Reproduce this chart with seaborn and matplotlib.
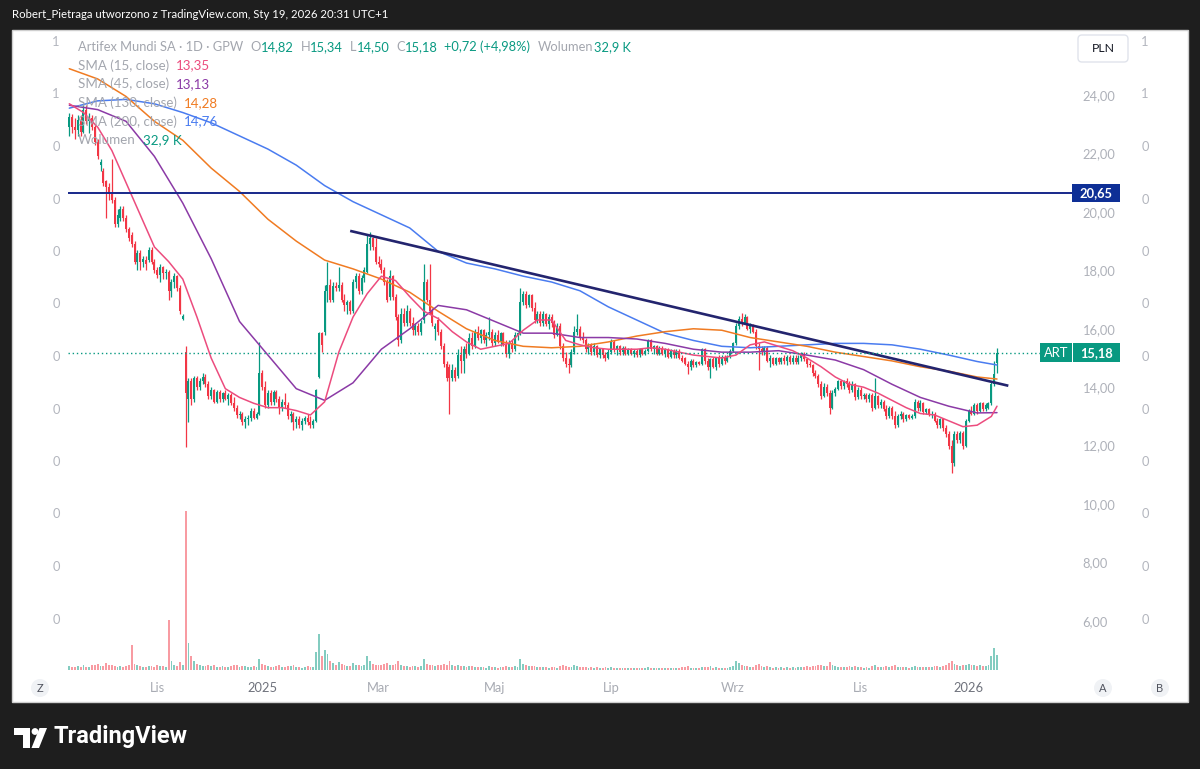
import matplotlib
matplotlib.use('Agg')
import matplotlib.pyplot as plt
from matplotlib.patches import Rectangle, FancyBboxPatch, Circle, Polygon
from matplotlib.transforms import Affine2D
import seaborn as sns
import pandas as pd
import numpy as np

# sessions on GPW, daily bars
first_day, last_day = '2024-09-19', '2026-01-19'
gpw_holidays = ['2024-11-01', '2024-11-11', '2024-12-24', '2024-12-25', '2024-12-26', '2024-12-31',
                '2025-01-01', '2025-01-06', '2025-04-18', '2025-04-21', '2025-05-01', '2025-06-19',
                '2025-08-15', '2025-11-11', '2025-12-24', '2025-12-25', '2025-12-26', '2025-12-31',
                '2026-01-01', '2026-01-06']

opens = [
    22.9, 23.25, 22.9, 22.8, 23.15, 22.75, 23.5, 23.1,
    23.2, 22.9, 22.4, 21.6, 21.4, 21.05, 20.85, 20.6, 20.4, 19.6, 19.8, 20.1, 19.8, 19.4, 19.2, 18.9, 18.3, 18.6, 18.3, 18.35, 18.35, 18.7, 18.3,
    18.0, 17.85, 18.1, 17.9, 17.95, 17.3, 17.6, 17.8, 17.4, 16.35, 15.2, 13.6, 14.2, 13.6, 14.3, 14.0, 14.2, 14.35, 14.1,
    13.7, 13.9, 13.5, 13.85, 13.6, 13.8, 13.6, 13.75, 13.45, 13.3, 13.05, 13.1, 12.8, 12.9, 12.95, 13.2, 12.95, 13.1,
    14.5, 14.0, 13.4, 13.8, 13.5, 13.85, 13.6, 13.3, 13.5, 13.4, 13.0, 13.1, 12.8, 12.9, 12.7, 12.85, 12.95, 12.8, 12.7, 12.85, 14.35,
    15.85, 15.9, 17.3, 17.5, 17.0, 17.45, 17.4, 17.5, 17.0, 16.8, 16.9, 16.6, 17.6, 17.8, 17.3, 17.75, 17.95, 18.9, 19.1, 18.8,
    18.3, 18.2, 18.0, 17.6, 17.1, 17.8, 17.1, 16.4, 15.6, 16.5, 16.2, 16.6, 16.2, 15.95, 16.1, 15.9, 16.3, 17.6, 17.0, 16.6, 16.0,
    16.3, 15.9, 15.4, 14.8, 14.7, 14.3, 14.6, 14.4, 15.1, 14.9, 15.3, 15.15, 15.7, 15.4, 15.9, 15.7, 15.95, 15.6, 15.8, 15.9,
    15.5, 15.8, 15.55, 15.85, 15.45, 15.15, 15.5, 15.3, 15.8, 15.85, 16.9, 17.2, 16.8, 17.15, 16.7, 16.3, 16.5, 16.2, 16.5, 16.15, 16.4,
    16.2, 15.8, 16.1, 15.4, 15.0, 14.8, 14.75, 15.2, 15.9, 16.0, 15.7, 15.6, 15.3, 15.45, 15.2, 15.4, 15.1, 15.3, 15.1, 15.0,
    15.2, 15.55, 15.3, 15.4, 15.2, 15.35, 15.15, 15.3, 15.15, 15.25, 15.1, 15.3, 15.15, 15.25, 15.6, 15.3, 15.4, 15.15, 15.35, 15.15, 15.3, 15.05, 15.25,
    15.1, 15.25, 15.0, 15.0, 14.8, 14.7, 14.9, 14.75, 14.85, 14.8, 15.3, 14.9, 14.7, 14.95, 14.7, 15.0, 14.8, 15.05, 14.9, 15.05,
    15.25, 15.5, 16.1, 16.35, 16.2, 16.4, 16.0, 16.1, 15.9, 15.4, 15.3, 15.2, 15.35, 14.9, 15.0, 14.8, 15.0, 14.85, 15.0, 14.9, 15.05, 14.85,
    15.0, 14.85, 15.0, 15.15, 14.95, 14.8, 14.75, 14.5, 14.4, 14.1, 13.7, 14.0, 13.8, 13.3, 13.8, 13.95, 14.2, 14.05, 14.2, 14.1, 13.9, 14.1, 13.65,
    13.9, 13.7, 13.75, 13.6, 13.75, 13.3, 13.7, 13.4, 13.5, 13.25, 13.0, 13.3, 13.0, 12.7, 13.0, 13.1, 12.9, 13.05, 12.95,
    13.0, 13.5, 13.3, 13.45, 13.15, 13.25, 13.05, 13.1, 12.85, 12.7, 12.9, 12.6, 12.4, 12.0, 11.4, 12.4, 12.2, 12.45, 12.0,
    12.85, 13.2, 13.1, 13.4, 13.2, 13.45, 13.25, 13.3, 13.45, 14.1, 14.82,
]
highs = [
    23.4, 23.35, 23.2, 23.3, 23.3, 23.7, 23.65, 23.4,
    23.3, 23.0, 22.5, 21.8, 21.5, 21.1, 21.0, 21.8, 20.5, 20.1, 20.2, 20.2, 19.9, 19.5, 19.3, 19.0, 18.7, 18.7, 18.5, 18.5, 18.8, 18.8, 18.4,
    18.1, 18.2, 18.15, 18.05, 18.0, 17.7, 17.9, 17.85, 17.5, 16.5, 15.4, 14.3, 14.3, 14.4, 14.4, 14.3, 14.5, 14.45, 14.2,
    14.0, 13.95, 13.9, 13.9, 13.85, 13.9, 13.8, 13.8, 13.65, 13.4, 13.2, 13.15, 13.0, 13.05, 13.3, 13.3, 13.15, 15.55,
    14.6, 14.2, 13.9, 13.9, 13.9, 13.9, 13.7, 13.6, 13.8, 13.5, 13.2, 13.15, 13.0, 13.0, 12.95, 13.0, 13.1, 13.0, 12.9, 13.95, 15.9,
    15.9, 17.5, 18.3, 17.7, 17.6, 17.6, 18.1, 17.6, 17.2, 17.0, 17.0, 17.7, 17.9, 17.9, 17.85, 18.1, 19.2, 19.3, 19.15, 19.1,
    18.5, 18.4, 18.1, 17.7, 18.0, 17.85, 17.2, 16.5, 16.7, 16.7, 16.8, 16.7, 16.4, 16.2, 16.2, 16.3, 18.2, 17.7, 18.2, 16.7, 16.2,
    16.4, 16.0, 15.5, 14.9, 14.8, 14.8, 14.7, 15.3, 15.4, 15.4, 15.5, 15.85, 15.9, 16.0, 16.1, 16.0, 16.0, 15.9, 16.4, 16.0,
    15.9, 15.95, 15.9, 15.9, 15.6, 15.6, 15.6, 15.9, 15.9, 17.4, 17.3, 17.3, 17.2, 17.2, 16.9, 16.6, 16.6, 16.6, 16.55, 16.5, 16.5,
    16.3, 16.2, 16.2, 15.5, 15.2, 15.0, 15.3, 16.1, 16.5, 16.1, 15.9, 15.7, 15.5, 15.5, 15.5, 15.45, 15.35, 15.35, 15.2, 15.3,
    15.65, 15.6, 15.45, 15.45, 15.4, 15.4, 15.35, 15.35, 15.3, 15.3, 15.35, 15.35, 15.3, 15.65, 15.65, 15.45, 15.45, 15.4, 15.4, 15.35, 15.35, 15.3, 15.3,
    15.3, 15.3, 15.1, 15.05, 14.9, 14.95, 14.95, 14.9, 14.9, 15.35, 15.35, 15.0, 15.0, 15.05, 15.05, 15.1, 15.1, 15.1, 15.1, 15.3,
    15.55, 16.2, 16.45, 16.55, 16.5, 16.45, 16.2, 16.15, 16.0, 15.5, 15.4, 15.4, 15.4, 15.1, 15.05, 15.05, 15.05, 15.05, 15.1, 15.1, 15.1, 15.1,
    15.1, 15.1, 15.2, 15.2, 15.0, 14.9, 14.8, 14.6, 14.45, 14.2, 14.15, 14.1, 13.9, 13.9, 14.0, 14.25, 14.25, 14.25, 14.3, 14.2, 14.2, 14.15, 14.0,
    14.0, 13.8, 13.8, 13.8, 13.8, 14.3, 13.75, 13.6, 13.55, 13.4, 13.35, 13.35, 13.2, 13.1, 13.2, 13.15, 13.1, 13.1, 13.1,
    13.6, 13.55, 13.55, 13.5, 13.3, 13.3, 13.2, 13.15, 12.95, 12.95, 12.95, 12.7, 12.5, 12.2, 12.5, 12.5, 12.5, 12.5, 12.9,
    13.25, 13.35, 13.45, 13.45, 13.5, 13.5, 13.45, 13.5, 14.2, 14.9, 15.34,
]
lows = [
    22.6, 22.7, 22.5, 22.6, 22.6, 22.7, 23.0, 22.7,
    22.8, 22.3, 21.8, 21.4, 20.9, 19.8, 20.4, 20.3, 19.5, 19.5, 19.7, 19.7, 19.3, 19.0, 18.8, 18.2, 18.0, 18.0, 18.1, 18.0, 18.3, 18.2, 17.9,
    17.75, 17.6, 17.7, 17.7, 17.0, 17.1, 17.4, 17.3, 16.5, 16.3, 11.95, 12.8, 13.4, 13.5, 13.9, 13.9, 14.1, 14.0, 13.6,
    13.6, 13.45, 13.45, 13.5, 13.5, 13.55, 13.4, 13.4, 13.2, 12.95, 12.9, 12.7, 12.6, 12.7, 12.85, 12.9, 12.9, 13.05,
    13.9, 13.3, 13.3, 13.4, 13.4, 13.5, 13.1, 13.2, 13.3, 12.9, 12.8, 12.55, 12.6, 12.6, 12.55, 12.75, 12.7, 12.6, 12.6, 12.8, 14.3,
    15.2, 15.8, 16.9, 16.9, 16.9, 17.3, 17.3, 16.9, 16.6, 16.5, 16.5, 16.55, 17.4, 17.2, 17.2, 17.6, 17.9, 18.7, 18.7, 18.2,
    18.1, 17.9, 17.5, 16.9, 17.0, 17.0, 16.3, 15.4, 15.5, 16.1, 16.1, 16.1, 15.8, 15.8, 15.8, 15.8, 16.2, 16.9, 16.5, 16.1, 15.6,
    15.8, 15.3, 14.7, 14.2, 13.1, 14.2, 14.2, 14.3, 14.5, 14.5, 15.0, 15.1, 15.3, 15.35, 15.6, 15.5, 15.5, 15.4, 15.6, 15.4,
    15.4, 15.5, 15.4, 15.4, 15.05, 15.0, 15.2, 15.25, 15.6, 15.8, 16.8, 16.7, 16.75, 16.6, 16.2, 16.2, 16.1, 16.1, 16.1, 16.0, 16.05,
    15.7, 15.75, 15.3, 14.9, 14.7, 14.5, 14.7, 15.15, 15.8, 15.6, 15.5, 15.2, 15.15, 15.1, 15.1, 15.05, 15.0, 15.0, 14.9, 14.95,
    15.15, 15.2, 15.1, 15.1, 15.1, 15.1, 15.1, 15.1, 15.05, 15.05, 15.05, 15.1, 15.1, 15.2, 15.25, 15.15, 15.1, 15.1, 15.1, 15.05, 15.0, 15.0, 15.0,
    15.0, 14.95, 14.85, 14.75, 14.45, 14.6, 14.7, 14.7, 14.75, 14.75, 14.8, 14.6, 14.3, 14.65, 14.6, 14.7, 14.75, 14.8, 14.85, 15.0,
    15.2, 15.45, 16.0, 16.1, 16.15, 15.95, 15.85, 15.85, 15.3, 14.6, 15.1, 15.1, 14.85, 14.7, 14.75, 14.75, 14.8, 14.8, 14.8, 14.75, 14.8, 14.8,
    14.8, 14.8, 14.9, 14.9, 14.7, 14.7, 14.4, 14.3, 14.0, 13.6, 13.65, 13.7, 13.1, 13.25, 13.7, 13.9, 13.95, 13.95, 14.0, 13.8, 13.85, 13.55, 13.6,
    13.6, 13.6, 13.5, 13.5, 13.2, 13.25, 13.3, 13.3, 13.2, 12.9, 12.95, 12.9, 12.6, 12.65, 12.9, 12.8, 12.85, 12.9, 12.9,
    12.95, 13.2, 13.2, 13.1, 13.1, 13.0, 12.95, 12.8, 12.6, 12.6, 12.5, 12.3, 11.9, 11.05, 11.3, 12.1, 12.1, 11.9, 11.95,
    12.8, 13.05, 13.05, 13.1, 13.15, 13.2, 13.2, 13.25, 13.4, 14.05, 14.5,
]
closes = [
    23.25, 22.9, 22.8, 23.15, 22.75, 23.5, 23.1, 23.25,
    22.9, 22.4, 21.9, 21.7, 21.0, 20.85, 20.6, 20.4, 19.6, 19.9, 20.1, 19.8, 19.4, 19.1, 18.9, 18.3, 18.6, 18.3, 18.4, 18.2, 18.7, 18.3, 18.0,
    17.85, 18.1, 17.9, 17.95, 17.3, 17.6, 17.8, 17.4, 16.6, 16.45, 13.8, 14.2, 13.6, 14.3, 14.0, 14.2, 14.35, 14.1, 13.7,
    13.9, 13.5, 13.85, 13.6, 13.8, 13.6, 13.75, 13.45, 13.3, 13.05, 13.1, 12.8, 12.9, 12.95, 13.2, 12.95, 13.1, 14.5,
    14.0, 13.4, 13.8, 13.5, 13.85, 13.6, 13.3, 13.5, 13.4, 13.0, 13.1, 12.8, 12.9, 12.7, 12.85, 12.95, 12.8, 12.7, 12.85, 13.9, 15.85,
    15.45, 17.3, 17.5, 17.0, 17.45, 17.4, 17.5, 17.0, 16.8, 16.9, 16.6, 17.6, 17.8, 17.3, 17.75, 18.0, 18.9, 19.1, 18.8, 18.3,
    18.2, 18.0, 17.6, 17.0, 17.8, 17.1, 16.4, 15.6, 16.5, 16.2, 16.6, 16.2, 15.95, 16.1, 15.9, 16.2, 17.6, 17.0, 16.6, 16.2, 16.1,
    15.9, 15.4, 14.8, 14.3, 14.3, 14.6, 14.3, 15.1, 14.9, 15.3, 15.15, 15.7, 15.4, 15.9, 15.7, 15.95, 15.6, 15.8, 15.9, 15.5,
    15.8, 15.55, 15.85, 15.45, 15.15, 15.5, 15.3, 15.8, 15.85, 16.9, 17.2, 16.8, 17.15, 16.7, 16.3, 16.5, 16.2, 16.5, 16.15, 16.4, 16.2,
    15.8, 16.1, 15.4, 15.0, 14.8, 14.75, 15.2, 15.9, 16.0, 15.7, 15.6, 15.3, 15.45, 15.2, 15.4, 15.1, 15.3, 15.1, 15.0, 15.2,
    15.55, 15.3, 15.4, 15.2, 15.35, 15.15, 15.3, 15.15, 15.25, 15.1, 15.3, 15.15, 15.25, 15.6, 15.3, 15.4, 15.15, 15.35, 15.15, 15.3, 15.05, 15.25, 15.1,
    15.25, 15.0, 14.9, 14.8, 14.7, 14.9, 14.75, 14.85, 14.8, 15.3, 14.9, 14.7, 14.95, 14.7, 15.0, 14.8, 15.05, 14.9, 15.05, 15.25,
    15.5, 16.1, 16.35, 16.2, 16.4, 16.0, 16.1, 15.9, 15.4, 15.3, 15.2, 15.35, 14.9, 15.0, 14.8, 15.0, 14.85, 15.0, 14.9, 15.05, 14.85, 15.0,
    14.85, 15.0, 15.15, 14.95, 14.8, 14.75, 14.5, 14.4, 14.1, 13.7, 14.0, 13.8, 13.3, 13.8, 13.95, 14.2, 14.05, 14.2, 14.1, 13.9, 14.1, 13.65, 13.9,
    13.7, 13.75, 13.6, 13.75, 13.3, 13.7, 13.4, 13.5, 13.25, 13.0, 13.3, 13.0, 12.7, 13.0, 13.1, 12.9, 13.05, 12.95, 13.0,
    13.5, 13.3, 13.45, 13.15, 13.25, 13.05, 13.1, 12.85, 12.7, 12.9, 12.6, 12.4, 12.0, 11.4, 12.4, 12.2, 12.45, 12.0, 12.85,
    13.2, 13.1, 13.4, 13.2, 13.45, 13.25, 13.4, 13.45, 14.1, 14.46, 15.18,
]
# volume in thousands of shares
volumes_k = [
    8, 6, 7, 9, 6, 10, 7, 6,
    12, 10, 14, 8, 9, 16, 10, 12, 9, 7, 8, 6, 9, 10, 55, 14, 10, 8, 7, 6, 9, 8, 7,
    10, 8, 9, 7, 110, 20, 12, 9, 18, 12, 350, 60, 30, 20, 14, 10, 9, 8, 12,
    8, 10, 7, 6, 9, 7, 6, 8, 10, 12, 7, 9, 8, 6, 7, 8, 6, 25,
    14, 10, 8, 7, 6, 8, 10, 7, 6, 9, 8, 10, 7, 6, 5, 7, 8, 6, 7, 40, 80,
    30, 45, 35, 20, 15, 12, 18, 14, 10, 9, 8, 16, 12, 10, 9, 12, 30, 20, 14, 12,
    12, 10, 14, 16, 12, 10, 14, 20, 12, 9, 8, 7, 9, 8, 7, 9, 25, 14, 12, 10, 8,
    10, 12, 14, 12, 20, 10, 8, 12, 9, 8, 7, 9, 8, 7, 6, 7, 6, 5, 8, 6,
    6, 5, 7, 6, 8, 7, 6, 8, 7, 25, 14, 10, 8, 9, 8, 7, 6, 7, 6, 5, 6,
    6, 5, 9, 10, 8, 7, 6, 10, 9, 7, 6, 7, 5, 6, 5, 6, 5, 5, 6, 5,
    6, 5, 4, 5, 4, 5, 4, 4, 5, 4, 4, 5, 4, 6, 5, 4, 5, 4, 4, 5, 4, 5, 4,
    4, 5, 6, 7, 8, 5, 4, 5, 4, 7, 6, 7, 8, 5, 6, 5, 4, 5, 4, 6,
    8, 20, 15, 10, 9, 8, 6, 7, 12, 14, 8, 6, 9, 6, 5, 6, 5, 6, 5, 6, 5, 6,
    5, 6, 7, 6, 8, 7, 9, 8, 10, 12, 8, 9, 18, 10, 8, 7, 6, 7, 6, 8, 6, 9, 7,
    6, 5, 6, 5, 8, 12, 7, 6, 7, 9, 7, 8, 10, 7, 6, 7, 6, 5, 6,
    8, 7, 6, 7, 6, 7, 6, 8, 9, 7, 9, 12, 16, 20, 14, 10, 9, 10, 12,
    14, 10, 12, 9, 10, 8, 9, 10, 30, 48, 32.9,
]

# moving averages (bar number -> value)
sma_fast_bars = list(range(0, 326, 5)) + [327]
sma15 = [23.7, 23.4, 22.9, 22.1, 21.0, 19.9, 18.8, 18.3, 17.7, 16.4, 15.0, 13.95, 13.65, 13.45,
         13.3, 13.3, 13.2, 13.05, 13.5, 15.2, 16.4, 17.2, 17.8, 17.65, 17.1, 16.6, 16.35, 15.9,
         15.55, 15.3, 15.4, 15.5, 15.95, 16.3, 16.3, 15.6, 15.45, 15.35, 15.3, 15.3, 15.3, 15.35,
         15.3, 15.2, 15.1, 15.05, 15.0, 15.1, 15.45, 15.55, 15.4, 15.25, 15.0, 14.7, 14.35, 14.1,
         14.0, 13.8, 13.55, 13.3, 13.1, 13.05, 12.85, 12.65, 12.7, 13.0, 13.35]
sma_slow_bars = list(range(0, 321, 10)) + [327]
sma45 = [23.65, 23.5, 23.1, 21.9, 20.3, 18.4, 16.25, 15.1, 13.95, 13.55, 14.15, 15.3, 16.0, 16.8,
         16.65, 16.25, 15.85, 15.85, 15.7, 15.7, 15.65, 15.5, 15.3, 15.2, 15.2, 15.25, 15.1, 14.93,
         14.6, 14.1, 13.65, 13.35, 13.12, 13.13]
sma130 = [24.9, 24.55, 23.95, 23.1, 22.45, 21.5, 20.7, 19.75, 19.0, 18.35, 18.05, 17.7, 17.25, 16.6,
          16.0, 15.6, 15.4, 15.35, 15.4, 15.55, 15.75, 15.9, 16.0, 15.95, 15.7, 15.55, 15.4, 15.2,
          15.05, 14.9, 14.7, 14.55, 14.35, 14.28]
sma200 = [23.55, 23.8, 23.85, 23.7, 23.4, 23.05, 22.6, 22.15, 21.6, 20.9, 20.35, 19.9, 19.45, 18.65,
          18.25, 18.05, 17.8, 17.6, 17.3, 16.75, 16.3, 15.85, 15.6, 15.4, 15.35, 15.4, 15.45, 15.5,
          15.5, 15.45, 15.3, 15.1, 14.88, 14.76]

# drawings
trend_bars = [99, 331]
trend_prices = [19.35, 14.05]
level_price = 20.65

price_ticks = [6, 8, 10, 12, 14, 16, 18, 20, 22, 24]
tick_months = ['2024-11', '2025-01', '2025-03', '2025-05', '2025-07', '2025-09', '2025-11', '2026-01']
tick_labels = ['Lis', '2025', 'Mar', 'Maj', 'Lip', 'Wrz', 'Lis', '2026']
side_labels = ['1', '1', '0', '0', '0', '0', '0', '0', '0', '0', '0', '0']

UP, DOWN = '#089981', '#f23645'
VUP, VDOWN = '#83ccc0', '#f89ba2'
C15, C45, C130, C200 = '#ec4c7e', '#8b3aa6', '#f07b22', '#4a7cf0'
GRAY = '#a3a6ae'

sns.set_style('white')
plt.rcParams['font.family'] = ['Lato', 'DejaVu Sans']

W, H = 1200, 769
fig = plt.figure(figsize=(W / 100, H / 100), dpi=100, facecolor='#1e1e1e')
pix = Affine2D().scale(1 / W, -1 / H).translate(0, 1) + fig.transFigure

fig.add_artist(Rectangle((12, 30), 1176, 672, transform=pix, fc='white', ec='#cfcfcf', lw=1, zorder=-1))

ax = fig.add_axes([68 / W, 1 - 675 / H, 1004 / W, 645 / H])
axv = ax.twinx()
ax.set_zorder(2)
ax.patch.set_visible(False)
axv.set_zorder(1)
axv.patch.set_visible(False)

n = len(closes)
idx = np.arange(n)
o, hi, lo, c = (np.array(v, dtype=float) for v in (opens, highs, lows, closes))
up = c >= o

# volume
axv.bar(idx, volumes_k, width=0.65, color=np.where(up, VUP, VDOWN), linewidth=0)
axv.set_ylim(-11, 1408)
axv.set_axis_off()

# candles
cols = np.where(up, UP, DOWN)
ax.vlines(idx, lo, hi, colors=cols, lw=0.9)
ax.bar(idx, np.maximum(np.abs(c - o), 0.03), bottom=np.minimum(o, c), width=0.7, color=cols, linewidth=0)

# SMAs
sns.lineplot(x=sma_slow_bars, y=sma200, ax=ax, color=C200, lw=1.1)
sns.lineplot(x=sma_slow_bars, y=sma130, ax=ax, color=C130, lw=1.1)
sns.lineplot(x=sma_slow_bars, y=sma45, ax=ax, color=C45, lw=1.1)
sns.lineplot(x=sma_fast_bars, y=sma15, ax=ax, color=C15, lw=1.1)

# drawings
ax.plot(trend_bars, trend_prices, color='#23246e', lw=1.9, solid_capstyle='butt')
ax.axhline(level_price, color='#17288a', lw=1.4)
ax.axhline(c[-1], xmax=0.968, color=UP, lw=1, ls=(0, (1, 2)))

ax.set_xlim(-0.46, 353.44)
ax.set_ylim(4.151, 26.225)
for s in ax.spines.values():
    s.set_visible(False)

dates = pd.bdate_range(first_day, last_day, freq='C', holidays=gpw_holidays)
ym = np.array(dates.strftime('%Y-%m'))
tick_pos = [int(np.argmax(ym == m)) for m in tick_months]
ax.set_xticks(tick_pos, tick_labels)
ax.tick_params(axis='x', length=0, pad=5, labelsize=9.3, labelcolor='#a8abb3')
for lab in ax.get_xticklabels():
    if lab.get_text().isdigit():
        lab.set_color('#6f727c')

ax.yaxis.tick_right()
ax.set_yticks(price_ticks, [f'{v:.2f}'.replace('.', ',') for v in price_ticks])
ax.tick_params(axis='y', length=0, pad=7.5, labelsize=9.3, labelcolor='#aeb1b9')


def py_of(price):
    return H - ax.transData.transform((0, price))[1]


# right side price labels
yl = py_of(level_price)
fig.add_artist(Rectangle((1072, yl - 9), 48, 18, transform=pix, fc='#0e2f96', ec='none', zorder=4))
fig.text(1096 / W, 1 - yl / H, '20,65', color='white', fontsize=9.3, fontweight='bold', ha='center', va='center', zorder=5)
yc = py_of(c[-1])
fig.add_artist(Rectangle((1040, yc - 9.5), 32, 19, transform=pix, fc=UP, ec='none', zorder=4))
fig.add_artist(Rectangle((1073, yc - 9.5), 47, 19, transform=pix, fc=UP, ec='none', zorder=4))
fig.text(1056 / W, 1 - yc / H, 'ART', color='white', fontsize=9.3, ha='center', va='center', zorder=5)
fig.text(1096.5 / W, 1 - yc / H, f'{c[-1]:.2f}'.replace('.', ','), color='white', fontsize=9.3,
         fontweight='bold', ha='center', va='center', zorder=5)

# PLN box
fig.add_artist(FancyBboxPatch((1078, 35), 50, 27, boxstyle='round,pad=0,rounding_size=4', transform=pix,
                              fc='white', ec='#e0e3eb', lw=1, zorder=4))
fig.text(1103 / W, 1 - 48.5 / H, 'PLN', color='#131722', fontsize=8.8, ha='center', va='center', zorder=5)

# odd 1/0 scales on both edges
for k, s in enumerate(side_labels):
    yy = 1 - (42 + 52.5 * k) / H
    fig.text(56 / W, yy, s, color='#b3b6be', fontsize=9.3, ha='center', va='center')
    fig.text(1145 / W, yy, s, color='#b3b6be', fontsize=9.3, ha='center', va='center')

# round buttons
for bx, s in [(40, 'Z'), (1103, 'A'), (1160, 'B')]:
    fig.add_artist(Circle((bx, 688), 9, transform=pix, fc='#f0f2f5', ec='none', zorder=4))
    fig.text(bx / W, 1 - 688 / H, s, color='#50535e', fontsize=8, ha='center', va='center', zorder=5)

# legend block
renderer = fig.canvas.get_renderer()


def chain(x, y, parts, size=9.6):
    # parts: (text, colour, gap in px before it)
    for s, col, gap in parts:
        x += gap
        t = fig.text(x / W, 1 - y / H, s, color=col, fontsize=size, ha='left', va='center', zorder=5)
        x += t.get_window_extent(renderer).width


chain(78, 47, [('Artifex Mundi SA · 1D · GPW', GRAY, 0), ('O', GRAY, 7), ('14,82', UP, 0),
               ('H', GRAY, 7), ('15,34', UP, 0), ('L', GRAY, 7), ('14,50', UP, 0),
               ('C', GRAY, 7), ('15,18', UP, 0), ('+0,72 (+4,98%)', UP, 6),
               ('Wolumen', GRAY, 8), ('32,9 K', UP, 0)], size=9.3)
legend_rows = [('SMA (15, close)', '13,35', C15), ('SMA (45, close)', '13,13', C45),
               ('SMA (130, close)', '14,28', C130), ('SMA (200, close)', '14,76', C200),
               ('Wolumen', '32,9 K', UP)]
for k, (name, val, col) in enumerate(legend_rows):
    chain(78, 65.5 + 18.7 * k, [(name, GRAY, 0), (val, col, 7)])

# header and logo
fig.text(12 / W, 1 - 15 / H, 'Robert_Pietraga utworzono z TradingView.com, Sty 19, 2026 20:31 UTC+1',
         color='white', fontsize=8.2, ha='left', va='center')
fig.add_artist(Polygon([(14, 728), (30, 728), (30, 748), (22.5, 748), (22.5, 735), (14, 735)],
                       closed=True, transform=pix, fc='white', ec='none'))
fig.add_artist(Circle((35, 731.5), 3.4, transform=pix, fc='white', ec='none'))
fig.add_artist(Polygon([(31.5, 748), (39, 748), (47, 728), (39.5, 728)], closed=True, transform=pix,
                       fc='white', ec='none'))
fig.text(54 / W, 1 - 737 / H, 'TradingView', color='white', fontsize=17, fontweight='bold',
         family=['Roboto', 'DejaVu Sans'], ha='left', va='center')

fig.savefig('out.png', dpi=100, facecolor=fig.get_facecolor())
